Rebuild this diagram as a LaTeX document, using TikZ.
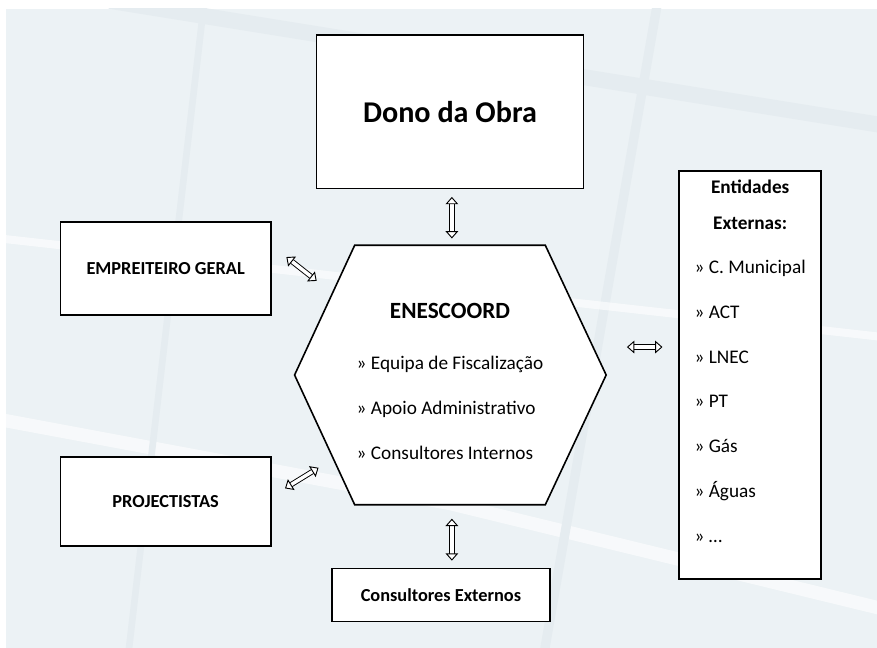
\documentclass[tikz,border=0pt]{standalone}
\usepackage{fontspec}
\setmainfont{Carlito}
\usepackage{tikz}
\usetikzlibrary{positioning, calc, arrows.meta}
\definecolor{backdrop}{RGB}{236,242,245}
\definecolor{beam}{RGB}{229,236,240}
\tikzstyle{box} = [rectangle, draw=black, line width=1.2pt, fill=white, text centered, font=\bfseries\fontsize{13.8}{16}\selectfont]
\tikzstyle{core} = [rectangle, minimum width=5.03cm, minimum height=6.85cm, inner sep=0pt]
\tikzstyle{hexline} = [draw=black, line width=1.2pt, fill=white, line join=miter]
\tikzstyle{listing} = [font=\fontsize{14.5}{17}\selectfont]
\tikzstyle{link} = [draw=black, line width=0.7pt, double=white, double distance=2.6pt, {Triangle[length=5.5pt,width=9.5pt,fill=white,line width=0.7pt]}-{Triangle[length=5.5pt,width=9.5pt,fill=white,line width=0.7pt]}]

\begin{document}
\begin{tikzpicture}
  \useasboundingbox (-11.906,-7.223) rectangle (11.298,9.922);
  %% backdrop
  \fill [backdrop] (-11.747,-7.223) rectangle (11.298,9.684);
  \begin{scope}
    \clip (-11.747,-7.223) rectangle (11.298,9.684);
    \draw [beam, line width=12pt] (-9,9.9) -- (11.5,6.6);
    \draw [white, opacity=0.6, line width=10pt] (-11.8,-1.2) -- (0,-3.4) -- (11.5,-6.2);
    \draw [beam, line width=7pt] (5.5,9.9) -- (2.5,-7.3);
    \draw [beam, line width=5pt] (-6.5,9.9) -- (-8.5,-7.3);
    \draw [white, opacity=0.6, line width=6pt] (-11.8,3.6) -- (11.5,1.0);
  \end{scope}
  %% nodes
  % centre
  \node [core] (hex) at (0,0) {};
  \coordinate (hexl) at ([xshift=-1.59cm]hex.west);
  \coordinate (hexr) at ([xshift=1.61cm]hex.east);
  \path [hexline] (hex.north west) -- (hex.north east) -- (hexr) -- (hex.south east) -- (hex.south west) -- (hexl) -- cycle;
  \node [listing] (enescoord) at ([yshift=-0.26cm]hex.center) {\begin{tabular}{@{}l@{}}
    \multicolumn{1}{c}{\fontsize{17.5}{20}\selectfont\bfseries ENESCOORD}\\[21pt]
    » Equipa de Fiscalização\\[17pt]
    » Apoio Administrativo\\[17pt]
    » Consultores Internos
  \end{tabular}};
  % around it
  \node [box, above=1.48cm of hex, minimum width=7.06cm, minimum height=4.07cm, font=\bfseries\fontsize{22.7}{26}\selectfont] (dono) {Dono da Obra};
  \node [box, left=2.2cm of hex, yshift=2.82cm, minimum width=5.56cm, minimum height=2.46cm] (empreiteiro) {EMPREITEIRO GERAL};
  \node [box, left=2.2cm of hex, yshift=-3.35cm, minimum width=5.56cm, minimum height=2.36cm] (projectistas) {PROJECTISTAS};
  \node [box, below=1.67cm of hex, xshift=-0.24cm, minimum width=5.77cm, minimum height=1.4cm] (consultores) {Consultores Externos};
  \node [box, listing, right=3.52cm of hex, minimum width=3.76cm, minimum height=10.8cm, font=\fontsize{14.5}{17}\selectfont] (entidades) {\begin{tabular}{@{}l@{}}
    \multicolumn{1}{c}{\bfseries Entidades}\\[10pt]
    \multicolumn{1}{c}{\bfseries Externas:}\\[16pt]
    » C. Municipal\\[16.75pt]
    » ACT\\[16.75pt]
    » LNEC\\[16.75pt]
    » PT\\[16.75pt]
    » Gás\\[16.75pt]
    » Águas\\[16.75pt]
    » \dots\\[17pt]
  \end{tabular}};
  %% edges
  \coordinate (empa) at ([yshift=0.61cm]empreiteiro.east);
  \coordinate (hexa) at ($(hex.north west)!0.37!(hexl)$);
  \coordinate (proja) at ([yshift=0.13cm]projectistas.east);
  \coordinate (hexb) at ($(hexl)!0.645!(hex.south west)$);
  \coordinate (hexc) at ([yshift=0.74cm]hexr);
  \path [link, shorten <=0.2cm, shorten >=0.18cm] ([xshift=0.05cm]hex.north |- dono.south) -- ([xshift=0.05cm]hex.north);
  \path [link, shorten <=0.5cm, shorten >=0.53cm] (empa) -- (hexa);
  \path [link, shorten <=0.42cm, shorten >=0.46cm] (proja) -- (hexb);
  \path [link, shorten <=0.37cm, shorten >=0.19cm] ([xshift=0.05cm]hex.south) -- ([xshift=0.05cm]hex.south |- consultores.north);
  \path [link, shorten <=0.55cm, shorten >=0.42cm] (hexc) -- (hexc -| entidades.west);
\end{tikzpicture}
\end{document}
